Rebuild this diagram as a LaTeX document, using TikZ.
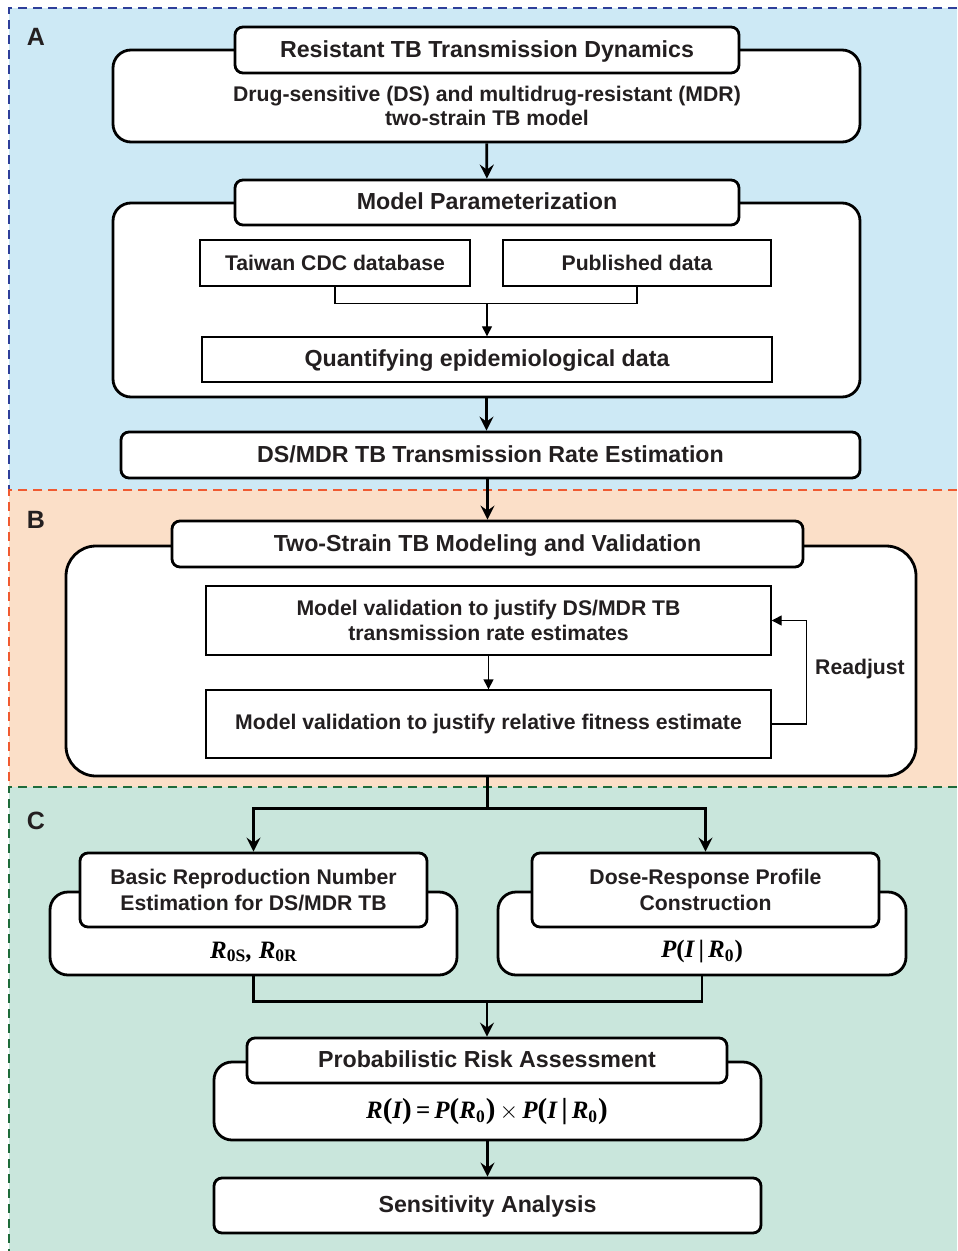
\documentclass[tikz,border=0pt]{standalone}
\usepackage{fontspec}
\setmainfont{Liberation Sans}
\newfontfamily\tnr{Liberation Serif}
\usepackage{tikz}
\usetikzlibrary{arrows.meta}

\definecolor{bgA}{HTML}{CDE9F5}
\definecolor{bgB}{HTML}{FBDFC8}
\definecolor{bgC}{HTML}{C9E6DC}
\definecolor{lnA}{HTML}{2E3F9A}
\definecolor{lnB}{HTML}{F05A30}
\definecolor{lnC}{HTML}{1E6B3A}
\definecolor{ink}{HTML}{231F20}

\newcommand{\fml}[1]{{\tnr\bfseries\itshape\fontsize{12.5}{14}\selectfont #1}}
\newcommand{\bp}[1]{{\fontsize{14.5}{14.5}\selectfont\upshape #1}}
\newcommand{\ix}[1]{\textsubscript{\upshape #1}}

\begin{document}
\begin{tikzpicture}[x=0.5pt, y=-0.5pt,
    outer/.style={draw, line width=1.4pt, rounded corners=9pt, fill=white, inner sep=0pt},
    hdr/.style={draw, line width=1.4pt, rounded corners=4pt, fill=white, inner sep=0pt},
    plain/.style={draw, line width=0.7pt, fill=white, inner sep=0pt},
    txt/.style={font=\bfseries\fontsize{11.6}{13}\selectfont, text=ink, align=center, text height=0.72em, text depth=0pt},
    sub/.style={font=\bfseries\fontsize{10.6}{12.2}\selectfont, text=ink, align=center},
    panel/.style={dash pattern=on 4.5pt off 3pt, line width=0.75pt},
    big/.style={-{Stealth[length=7pt,width=7pt,inset=2.5pt]}, line width=1.4pt},
    small/.style={-{Triangle[length=5pt,width=5pt]}, line width=0.7pt}]
    \useasboundingbox (0,0) rectangle (957,1251);
    \fill[bgA] (9,8) rectangle (957,490);
    \fill[bgB] (9,490) rectangle (957,787);
    \fill[bgC] (9,787) rectangle (957,1251);
    \draw[panel, lnA] (957,8) -- (9,8) -- (9,490);
    \draw[panel, lnB] (957,490) -- (9,490) -- (9,787);
    \draw[panel, lnC] (957,787) -- (9,787) -- (9,1251);
    \node[txt, font=\bfseries\fontsize{12.5}{13}\selectfont] (labA) at (36,38) {A};
    \node[txt, font=\bfseries\fontsize{12.5}{13}\selectfont] (labB) at (36,521) {B};
    \node[txt, font=\bfseries\fontsize{12.5}{13}\selectfont] (labC) at (36,822) {C};

    \node[outer, minimum width=373.5pt, minimum height=46pt] (dyn) at (486.5,96) {};
    \node[hdr, minimum width=252pt, minimum height=23pt, txt] (dynh) at (487,50) {Resistant TB Transmission Dynamics};
    \node[sub, font=\bfseries\fontsize{10.6}{11.6}\selectfont] (dynb) at (487,106) {Drug-sensitive (DS) and multidrug-resistant (MDR)\\two-strain TB model};

    \node[outer, minimum width=373.5pt, minimum height=97pt] (par) at (486.5,300) {};
    \node[hdr, minimum width=252pt, minimum height=22.5pt, txt] (parh) at (487,202.5) {Model Parameterization};
    \node[plain, minimum width=135pt, minimum height=23pt, sub] (cdc) at (335,263) {Taiwan CDC database};
    \node[plain, minimum width=134pt, minimum height=23pt, sub] (pub) at (637,263) {Published data};
    \node[plain, minimum width=285pt, minimum height=22.5pt, txt] (epi) at (487,359.5) {Quantifying epidemiological data};
    \node[outer, rounded corners=4pt, minimum width=369.5pt, minimum height=23pt, txt] (rate) at (490.5,455) {DS/MDR TB Transmission Rate Estimation};

    \node[outer, rounded corners=15pt, minimum width=425pt, minimum height=115pt] (val) at (491,661) {};
    \node[hdr, minimum width=315.5pt, minimum height=23pt, txt] (valh) at (487.5,544) {Two-Strain TB Modeling and Validation};
    \node[plain, minimum width=282.5pt, minimum height=34.5pt, sub] (v1) at (488.5,620.5) {Model validation to justify DS/MDR TB\\transmission rate estimates};
    \node[plain, minimum width=282.5pt, minimum height=34pt, sub] (v2) at (488.5,724) {Model validation to justify relative fitness estimate};
    \node[sub] (rdj) at (860,669) {Readjust};

    \node[outer, minimum width=203.5pt, minimum height=41.5pt] (rep) at (253.5,933.5) {};
    \node[hdr, minimum width=173.5pt, minimum height=37pt, sub, font=\bfseries\fontsize{10.6}{13}\selectfont] (reph) at (253.5,890) {Basic Reproduction Number\\Estimation for DS/MDR TB};
    \node (repf) at (254,952) {\fml{R\ix{0S}, R\ix{0R}}};
    \node[outer, minimum width=204pt, minimum height=41.5pt] (dose) at (702,933.5) {};
    \node[hdr, minimum width=173.5pt, minimum height=37pt, sub, font=\bfseries\fontsize{10.6}{13}\selectfont] (doseh) at (705.5,890) {Dose-Response Profile\\Construction};
    \node (dosef) at (702,952) {\fml{P{\upshape(}I\,{\upshape|}\,R\ix{0}{\upshape)}}};

    \node[outer, minimum width=273.5pt, minimum height=39pt] (risk) at (487.5,1101) {};
    \node[hdr, minimum width=240pt, minimum height=22.5pt, txt] (riskh) at (487,1060.5) {Probabilistic Risk Assessment};
    \node (riskf) at (487,1112) {\fml{R\bp{(}I\bp{)}\,{\upshape=}\,P\bp{(}R\ix{0}\bp{)}\,{\upshape$\times$}\,P\bp{(}I\,\bp{|}\,R\ix{0}\bp{)}}};
    \node[outer, rounded corners=4pt, minimum width=273.5pt, minimum height=27.5pt, txt] (sens) at (487.5,1205.5) {Sensitivity Analysis};

    \draw[big] (dyn) -- (parh);
    \draw[line width=0.7pt] (cdc.south) -- ++(0,17) coordinate (m1) -| (pub.south);
    \draw[small] (m1 -| epi.north) -- (epi.north);
    \draw[big] (par.south) -- (par.south |- rate.north);
    \draw[big] (valh.north |- rate.south) -- (valh.north);
    \draw[small] (v1) -- (v2);
    \draw[small] (v2.east) -- ++(35,0) |- (v1.east);
    \draw[line width=1.4pt] (valh.south |- val.south) -- ++(0,31) coordinate (sp);
    \draw[big] (sp) -| (reph.north);
    \draw[big] (sp) -| (doseh.north);
    \draw[line width=1.4pt] (rep.south) -- ++(0,25) coordinate (m2) -| (dose.south);
    \draw[big] (m2 -| riskh.north) -- (riskh.north);
    \draw[big] (risk) -- (sens);
\end{tikzpicture}
\end{document}
